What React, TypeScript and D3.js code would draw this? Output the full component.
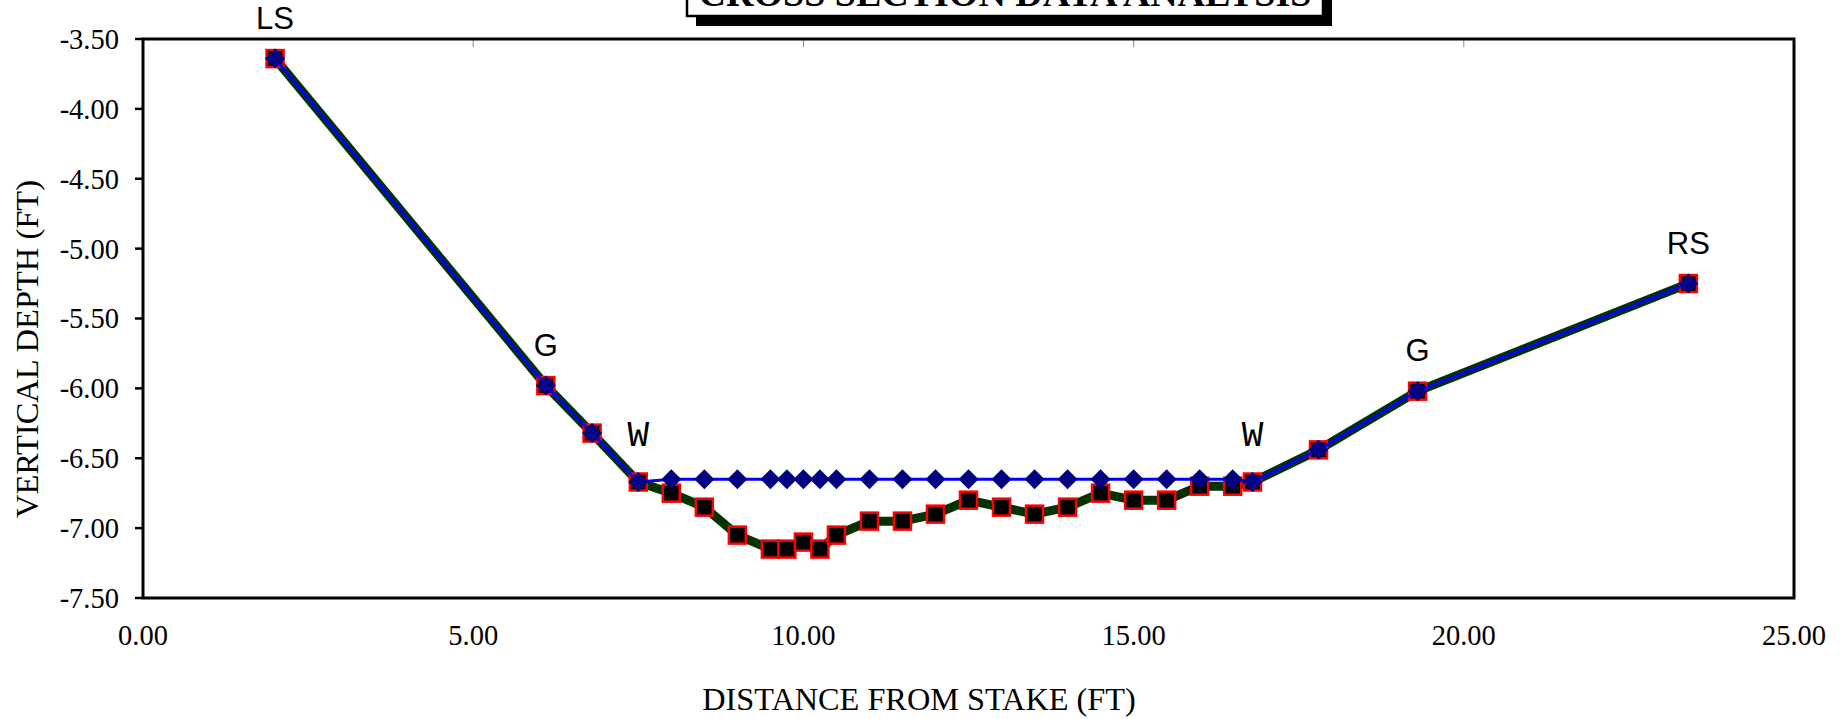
import React from "react";
import * as d3 from "d3";

const stations = [2.0, 6.1, 6.8, 7.5, 8.0, 8.5, 9.0, 9.5, 9.75, 10.0, 10.25, 10.5, 11.0, 11.5, 12.0, 12.5, 13.0, 13.5, 14.0, 14.5, 15.0, 15.5, 16.0, 16.5, 16.8, 17.8, 19.3, 23.4];
const bedDepth = [-3.64, -5.98, -6.32, -6.67, -6.75, -6.85, -7.05, -7.15, -7.15, -7.10, -7.15, -7.05, -6.95, -6.95, -6.90, -6.80, -6.85, -6.90, -6.85, -6.75, -6.80, -6.80, -6.70, -6.70, -6.67, -6.44, -6.02, -5.25];
const waterDepth = [-3.64, -5.98, -6.32, -6.67, -6.65, -6.65, -6.65, -6.65, -6.65, -6.65, -6.65, -6.65, -6.65, -6.65, -6.65, -6.65, -6.65, -6.65, -6.65, -6.65, -6.65, -6.65, -6.65, -6.65, -6.67, -6.44, -6.02, -5.25];

const labelText = ["LS", "G", "W", "W", "G", "RS"];
const labelStation = [2.0, 6.1, 7.5, 16.8, 19.3, 23.4];
const labelDepth = [-3.64, -5.98, -6.67, -6.67, -6.02, -5.25];
const labelMono = [false, false, true, true, false, false];

const xTicks = [0, 5, 10, 15, 20, 25];
const yTicks = [-3.5, -4.0, -4.5, -5.0, -5.5, -6.0, -6.5, -7.0, -7.5];
const topTicks = [5, 10, 15, 20];

const title = "CROSS SECTION DATA ANALYSIS";
const xTitle = "DISTANCE FROM STAKE (FT)";
const yTitle = "VERTICAL DEPTH (FT)";

const W = 1848;
const H = 719;
const L = 143, R = 1794, T = 39, B = 598;

export default function App() {
  const x = d3.scaleLinear().domain([0, 25]).range([L, R]);
  const y = d3.scaleLinear().domain([-7.5, -3.5]).range([B, T]);
  const bedPts: [number, number][] = stations.map((s, i) => [x(s), y(bedDepth[i])]);
  const waterPts: [number, number][] = stations.map((s, i) => [x(s), y(waterDepth[i])]);
  const line = d3.line();
  const serif = "'Liberation Serif', 'Times New Roman', serif";
  const sans = "'Liberation Sans', Arial, sans-serif";
  const mono = "'Courier New', 'Liberation Mono', monospace";
  const sq = 17;
  const dm = 10;

  return (
    <svg width={W} height={H} style={{ position: "absolute", left: 0, top: 0, background: "#fff" }}>
      <rect x={0} y={0} width={W} height={H} fill="#fff" />
      {/* title box */}
      <rect x={696} y={-30} width={636} height={56} fill="#000" />
      <rect x={687} y={-40} width={636} height={56} fill="#fff" stroke="#000" strokeWidth={2.5} />
      <text x={1005} y={6} textAnchor="middle" fontFamily={serif} fontWeight="bold" fontSize={38}>{title}</text>

      {/* top minor ticks */}
      {topTicks.map((t) => (
        <line key={"tt" + t} x1={x(t)} x2={x(t)} y1={T} y2={T + 8} stroke="#888" strokeWidth={1} />
      ))}
      {/* y ticks */}
      {yTicks.map((t) => (
        <g key={"yt" + t}>
          <line x1={L - 8} x2={L} y1={y(t)} y2={y(t)} stroke="#000" strokeWidth={2.5} />
          <text x={119} y={y(t)} dy="0.35em" textAnchor="end" fontFamily={serif} fontSize={28.5}>{t.toFixed(2)}</text>
        </g>
      ))}
      {xTicks.map((t) => (
        <text key={"xt" + t} x={x(t)} y={645} textAnchor="middle" fontFamily={serif} fontSize={28.5}>{t.toFixed(2)}</text>
      ))}
      <text x={919} y={710} textAnchor="middle" fontFamily={serif} fontSize={32.3}>{xTitle}</text>
      <text transform="translate(38,349) rotate(-90)" textAnchor="middle" fontFamily={serif} fontSize={32.5}>{yTitle}</text>

      {/* plot frame */}
      <rect x={L} y={T} width={R - L} height={B - T} fill="none" stroke="#000" strokeWidth={3} />

      {/* bed series */}
      <path d={line(bedPts) || ""} fill="none" stroke="#003300" strokeWidth={9} strokeLinejoin="round" />
      {bedPts.map((p, i) => (
        <rect key={"b" + i} x={p[0] - sq / 2} y={p[1] - sq / 2} width={sq} height={sq} fill="#000" stroke="#ff0000" strokeWidth={2.5} />
      ))}
      {/* water series */}
      <path d={line(waterPts) || ""} fill="none" stroke="#0000ff" strokeWidth={3} strokeLinejoin="round" />
      {waterPts.map((p, i) => (
        <path key={"w" + i} d={`M${p[0]},${p[1] - dm}L${p[0] + dm},${p[1]}L${p[0]},${p[1] + dm}L${p[0] - dm},${p[1]}Z`} fill="#000080" />
      ))}

      {/* point labels */}
      {labelText.map((t, i) => (
        <text key={"l" + i} x={x(labelStation[i])} y={y(labelDepth[i]) - (labelMono[i] ? 36 : 30)} textAnchor="middle"
          fontFamily={labelMono[i] ? mono : sans} fontSize={labelMono[i] ? 36 : 31}>{t}</text>
      ))}
    </svg>
  );
}
